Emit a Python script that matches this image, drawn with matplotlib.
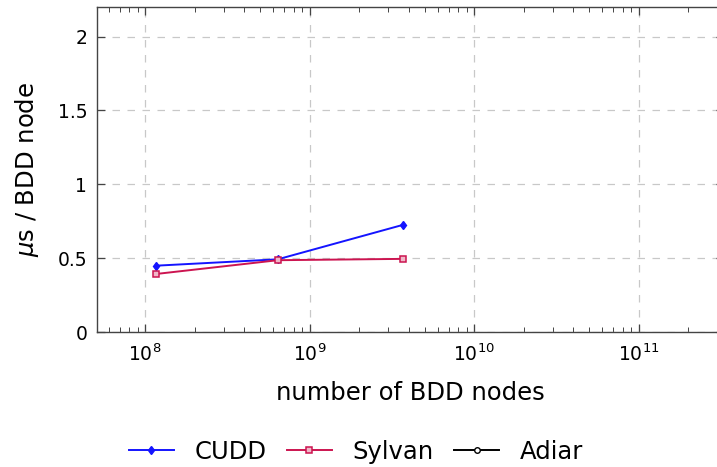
import numpy as np
import matplotlib.pyplot as plt
from matplotlib.ticker import LogLocator, FixedLocator


# measured series: number of BDD nodes vs. microseconds per node.
cudd_nodes = [1.17e8, 6.4e8, 3.68e9]
cudd_us = [0.449, 0.492, 0.725]
sylvan_nodes = [1.17e8, 6.4e8, 3.68e9]
sylvan_us = [0.393, 0.486, 0.495]
adiar_nodes = []
adiar_us = []

y_ticks = [0, 0.5, 1, 1.5, 2]
y_tick_labels = ['0', '0.5', '1', '1.5', '2']

BLUE = '#1414ff'
RED = '#cc1450'


fig = plt.figure(figsize = (7.17, 4.67), dpi = 100)
ax = fig.add_axes([97 / 717, 1 - 332 / 467, 1.01 - 97 / 717, (332 - 7) / 467])

ax.plot(cudd_nodes, cudd_us, color = BLUE, lw = 1.4, marker = 'd', ms = 4.5,
        mfc = BLUE, mec = BLUE, label = 'CUDD')
ax.plot(sylvan_nodes, sylvan_us, color = RED, lw = 1.4, marker = 's', ms = 5,
        mfc = '#f0b8c8', mec = RED, mew = 1.1, label = 'Sylvan')
ax.plot(adiar_nodes, adiar_us, color = 'black', lw = 1.4, marker = 'o', ms = 4,
        mfc = 'white', mec = 'black', label = 'Adiar')

ax.set_xscale('log')
ax.set_xlim(5.1e7, 3.3e11)
ax.set_ylim(0, 2.2)
ax.xaxis.set_major_locator(LogLocator(base = 10, numticks = 10))
ax.xaxis.set_minor_locator(LogLocator(base = 10, subs = np.arange(2, 10), numticks = 20))
ax.yaxis.set_major_locator(FixedLocator(y_ticks))
ax.set_yticklabels(y_tick_labels)

ax.tick_params(which = 'both', direction = 'in', top = True, right = True,
               color = '#444444', labelsize = 13.5)
ax.tick_params(which = 'major', length = 6, width = 0.9)
ax.tick_params(which = 'minor', length = 3.5, width = 0.7)
ax.tick_params(axis = 'x', pad = 8)
ax.tick_params(axis = 'y', pad = 7)

for s in ax.spines.values():
    s.set_color('#444444')
    s.set_linewidth(1.0)

ax.grid(True, which = 'major', color = '#c8c8c8', lw = 0.9, dashes = (6, 6))
ax.set_axisbelow(True)

ax.set_xlabel('number of BDD nodes', fontsize = 17.5, labelpad = 12)
ax.set_ylabel(r'$\mu$s / BDD node', fontsize = 17.5, labelpad = 12)

fig.legend(loc = 'center', bbox_to_anchor = (356 / 717, 1 - 452 / 467), ncol = 3,
           frameon = False, fontsize = 17.5, handlelength = 1.85, columnspacing = 0.85,
           handletextpad = 0.85)

fig.savefig('out.png', dpi = 100)
